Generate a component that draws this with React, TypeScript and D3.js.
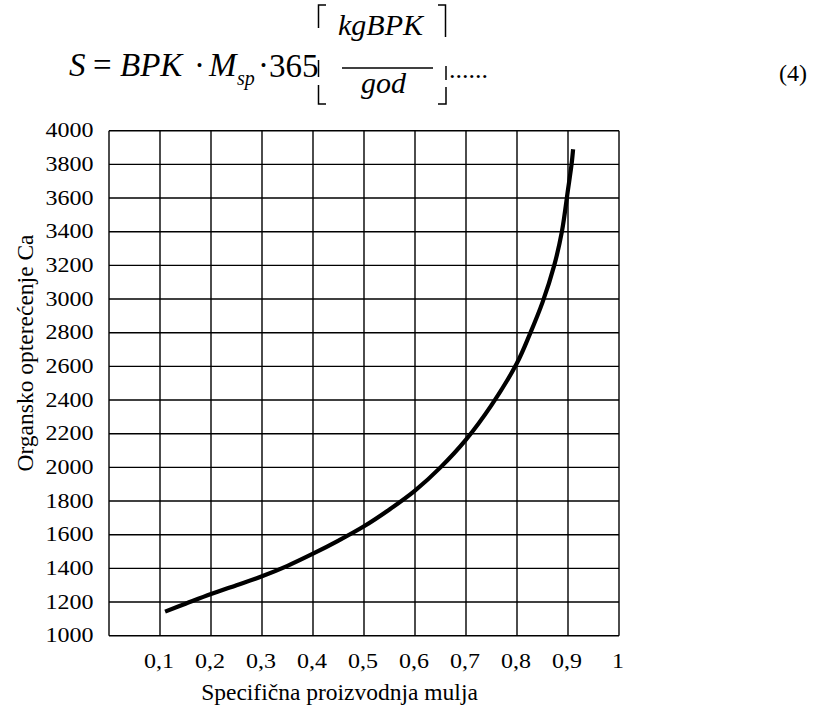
import React from 'react';
import * as d3 from 'd3';

// values
const curveX = [0.11, 0.15, 0.2, 0.25, 0.3, 0.35, 0.4, 0.45, 0.5, 0.55, 0.6, 0.65, 0.7, 0.75, 0.8, 0.825, 0.85, 0.873, 0.888, 0.9, 0.907, 0.91];
const curveY = [1143, 1190, 1248, 1300, 1353, 1415, 1487, 1565, 1650, 1750, 1862, 2000, 2165, 2370, 2620, 2790, 2980, 3200, 3400, 3650, 3800, 3890];
const xTicks = [0.1, 0.2, 0.3, 0.4, 0.5, 0.6, 0.7, 0.8, 0.9, 1];
const xTickLabels = ['0,1', '0,2', '0,3', '0,4', '0,5', '0,6', '0,7', '0,8', '0,9', '1'];
const yTicks = [1000, 1200, 1400, 1600, 1800, 2000, 2200, 2400, 2600, 2800, 3000, 3200, 3400, 3600, 3800, 4000];
const xTitle = 'Specifična proizvodnja mulja';
const yTitle = 'Organsko opterećenje Ca';

const W = 828;
const H = 705;
const font = "'Liberation Serif', 'Times New Roman', serif";

const App: React.FC = () => {
  const x = d3.scaleLinear().domain([0, 1]).range([109, 619]);
  const y = d3.scaleLinear().domain([1000, 4000]).range([635.7, 130.7]);

  const pts: [number, number][] = curveX.map((v, i) => [v, curveY[i]]);
  const line = d3.line<[number, number]>()
    .x(d => x(d[0]))
    .y(d => y(d[1]))
    .curve(d3.curveCatmullRom.alpha(0.5));

  const gridX = d3.range(0, 11).map(i => i / 10);

  return (
    <svg width={W} height={H} style={{ position: 'absolute', left: 0, top: 0, background: '#fff', fontFamily: font }}>
      {/* formula */}
      <g fill="#000" fontSize={33} style={{ fontFamily: font }}>
        <text x={69} y={76} fontStyle="italic">S</text>
        <text x={93} y={76}>=</text>
        <text x={120} y={76} fontStyle="italic">BPK</text>
        <text x={194} y={76}>·</text>
        <text x={209} y={76} fontStyle="italic">M</text>
        <text x={237} y={85} fontSize={20} fontStyle="italic">sp</text>
        <text x={258} y={76}>·</text>
        <text x={269} y={77}>365</text>
        <text x={338} y={35} fontSize={30} fontStyle="italic">kgBPK</text>
        <text x={361} y={93} fontSize={30} fontStyle="italic">god</text>
        <text x={449} y={78} fontSize={26}>......</text>
        <text x={779} y={81} fontSize={24}>(4)</text>
      </g>
      <g stroke="#000" strokeWidth={1.5} fill="none">
        <path d="M326,5H318.5V28" />
        <path d="M318.5,60V77" />
        <path d="M318.5,85V104H326" />
        <path d="M438,5H445.5V37" />
        <path d="M446,66V80" />
        <path d="M446,87V104H438" />
        <line x1={342} x2={433} y1={68} y2={68} />
      </g>

      {/* grid */}
      <g stroke="#000" strokeWidth={1.4}>
        {gridX.map(v => (
          <line key={'gx' + v} x1={x(v)} x2={x(v)} y1={y(1000)} y2={y(4000)} />
        ))}
        {yTicks.map(v => (
          <line key={'gy' + v} x1={x(0)} x2={x(1)} y1={y(v)} y2={y(v)} />
        ))}
      </g>

      {/* curve */}
      <path d={line(pts) || ''} fill="none" stroke="#000" strokeWidth={4.2} />

      {/* y tick labels */}
      <g fontSize={20} fill="#000" style={{ fontFamily: font }}>
        {yTicks.map(v => (
          <text key={'yl' + v} transform={`translate(93.5,${y(v) + 6.7}) scale(1.2,1)`} textAnchor="end">{v}</text>
        ))}
      </g>
      {/* x tick labels */}
      <g fontSize={20} fill="#000" style={{ fontFamily: font }}>
        {xTicks.map((v, i) => (
          <text key={'xl' + v} transform={`translate(${x(v) - 1},668.3) scale(1.2,1)`} textAnchor="middle">{xTickLabels[i]}</text>
        ))}
      </g>

      {/* axis titles */}
      <text x={339.5} y={700} fontSize={23.5} textAnchor="middle" fill="#000" style={{ fontFamily: font }}>{xTitle}</text>
      <text transform="translate(33,353) rotate(-90)" fontSize={23.5} textAnchor="middle" fill="#000" style={{ fontFamily: font }}>{yTitle}</text>
    </svg>
  );
};

export default App;
